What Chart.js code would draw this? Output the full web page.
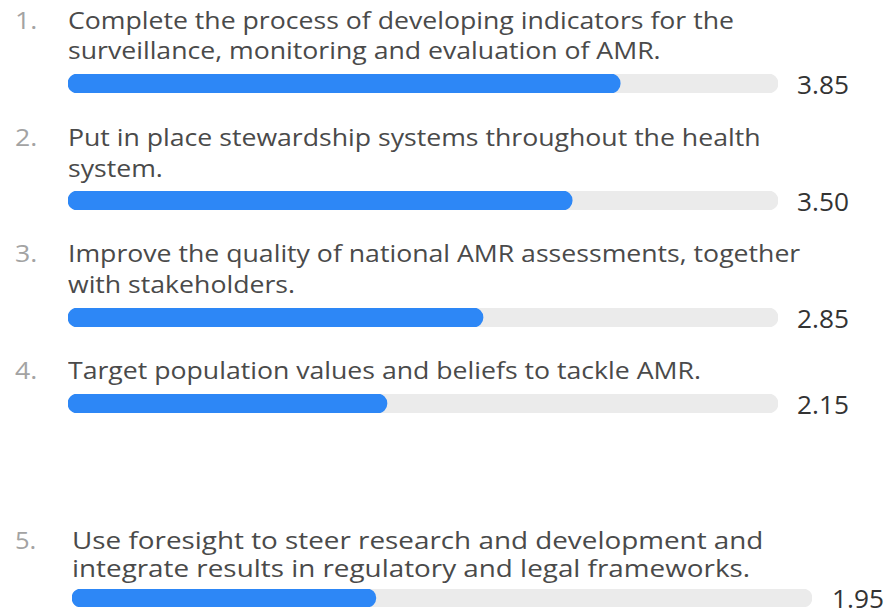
<!DOCTYPE html>
<html>
<head>
<meta charset="utf-8">
<script src="https://cdn.jsdelivr.net/npm/chart.js@4/dist/chart.umd.min.js"></script>
<style>
  html, body { margin: 0; padding: 0; background: #ffffff; }
  #wrap { position: relative; width: 888px; height: 611px; overflow: hidden; font-family: "Open Sans", "Noto Sans", sans-serif; }
  .num { position: absolute; color: #a3a3a3; white-space: nowrap; transform-origin: 0 0; }
  .txt { position: absolute; color: #4a4a4a; white-space: nowrap; transform-origin: 0 0; }
  .val { position: absolute; font-size: 25px; color: #333333; white-space: nowrap; transform-origin: 0 0; }
  canvas { position: absolute; }
</style>
</head>
<body>
<div id="wrap"></div>
<script>
// ---- data ----
const itemNumbers = ["1.", "2.", "3.", "4.", "5."];
const labelLines = [
  ["Complete the process of developing indicators for the", "surveillance, monitoring and evaluation of AMR."],
  ["Put in place stewardship systems throughout the health", "system."],
  ["Improve the quality of national AMR assessments, together", "with stakeholders."],
  ["Target population values and beliefs to tackle AMR."],
  ["Use foresight to steer research and development and", "integrate results in regulatory and legal frameworks."]
];
const values = [3.85, 3.50, 2.85, 2.15, 1.95];
const scaleMax = 5;

// ---- layout (positions only) ----
const layout = [
  { textTop: 5,   fs: 24, lineH: 30, sx: 1.11, numX: 15, textX: 68, barTop: 74,  barH: 19, barX: 68, barW: 710, valX: 797 },
  { textTop: 121, fs: 24, lineH: 31, sx: 1.11, numX: 15, textX: 68, barTop: 191, barH: 19, barX: 68, barW: 710, valX: 797 },
  { textTop: 237, fs: 24, lineH: 31, sx: 1.11, numX: 15, textX: 68, barTop: 308, barH: 19, barX: 68, barW: 710, valX: 797 },
  { textTop: 354, fs: 24, lineH: 31, sx: 1.11, numX: 15, textX: 68, barTop: 394, barH: 19, barX: 68, barW: 710, valX: 797 },
  { textTop: 526, fs: 23, lineH: 28, sx: 1.21, numX: 15, textX: 72, barTop: 589, barH: 18, barX: 72, barW: 740, valX: 832 }
];
const startOffsetFrac = 24 / 710; // rounded start of track before the zero value

const wrap = document.getElementById('wrap');
const blue = 'rgb(45,135,246)';
const track = 'rgb(235,235,235)';

values.forEach((v, i) => {
  const L = layout[i];
  const num = document.createElement('div');
  num.className = 'num';
  num.style.left = L.numX + 'px';
  num.style.top = L.textTop + 'px';
  num.style.fontSize = L.fs + 'px';
  num.style.lineHeight = L.lineH + 'px';
  num.style.transform = 'scaleX(' + Math.min(L.sx, 1.11) + ')';
  num.textContent = itemNumbers[i];
  wrap.appendChild(num);

  const txt = document.createElement('div');
  txt.className = 'txt';
  txt.style.left = L.textX + 'px';
  txt.style.top = L.textTop + 'px';
  txt.style.fontSize = L.fs + 'px';
  txt.style.lineHeight = L.lineH + 'px';
  txt.style.transform = 'scaleX(' + L.sx + ')';
  txt.innerHTML = labelLines[i].map(s => s.replace(/&/g, '&amp;')).join('<br>');
  wrap.appendChild(txt);

  const cv = document.createElement('canvas');
  cv.width = L.barW; cv.height = L.barH;
  cv.style.left = L.barX + 'px';
  cv.style.top = L.barTop + 'px';
  cv.style.width = L.barW + 'px';
  cv.style.height = L.barH + 'px';
  wrap.appendChild(cv);

  const minV = -scaleMax * startOffsetFrac / (1 - startOffsetFrac);

  new Chart(cv, {
    type: 'bar',
    data: {
      labels: [labelLines[i].join(' ')],
      datasets: [
        { data: [v], backgroundColor: blue, grouped: false, order: 0, base: minV,
          borderRadius: L.barH / 2, borderSkipped: false, barPercentage: 1, categoryPercentage: 1 },
        { data: [scaleMax], backgroundColor: track, grouped: false, order: 1, base: minV,
          borderRadius: L.barH / 2, borderSkipped: false, barPercentage: 1, categoryPercentage: 1 }
      ]
    },
    options: {
      indexAxis: 'y',
      responsive: false,
      animation: false,
      layout: { padding: 0 },
      plugins: { legend: { display: false }, tooltip: { enabled: false } },
      scales: {
        x: { display: false, min: minV, max: scaleMax },
        y: { display: false }
      }
    }
  });

  const val = document.createElement('div');
  val.className = 'val';
  val.style.left = L.valX + 'px';
  val.style.top = (L.barTop + L.barH / 2 - 12) + 'px';
  val.style.lineHeight = '24px';
  val.style.transform = 'scaleX(1.05)';
  val.textContent = v.toFixed(2);
  wrap.appendChild(val);
});
</script>
</body>
</html>
